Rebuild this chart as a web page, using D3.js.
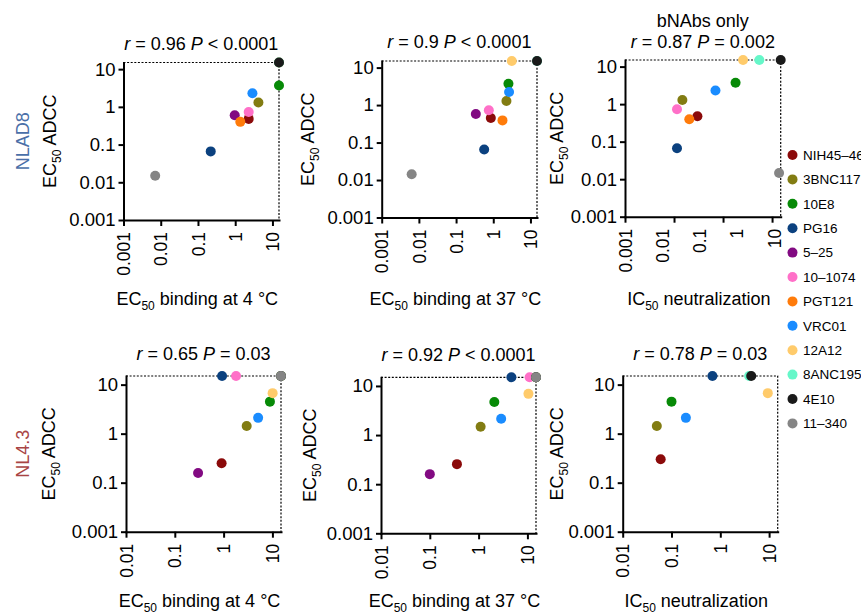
<!DOCTYPE html>
<html>
<head>
<meta charset="utf-8">
<script src="https://cdnjs.cloudflare.com/ajax/libs/d3/7.8.5/d3.min.js"></script>
<style>
  body { margin: 0; background: #fff; }
  svg text { font-family: "Liberation Sans", Arial, Helvetica, sans-serif; fill: #000; }
</style>
</head>
<body>
<div id="chart"></div>
<script>

var antibodies = ['NIH45–46', '3BNC117', '10E8', 'PG16', '5–25', '10–1074', 'PGT121', 'VRC01', '12A12', '8ANC195', '4E10', '11–340'];
var colors = ['#8b0a0a', '#827c12', '#078a07', '#0b417f', '#820a82', '#ff70c8', '#ff7b0a', '#1a8cff', '#ffcb6b', '#66f7c9', '#1a1a1a', '#858585'];

// ug/ml, 15 = not reached (drawn on the dotted line), null = not plotted
var nlad8Bind4X  = [2.3, 4.2, 15, 0.22, 0.97, 2.3, 1.37, 2.9, 15, 15, 15, 0.0071];
var nlad8Bind4Y  = [0.48, 1.3, 3.7, 0.066, 0.6, 0.73, 0.4, 2.3, 15, 15, 15, 0.0149];
var nlad8Bind37X = [0.86, 2.26, 2.56, 0.57, 0.34, 0.76, 1.77, 2.66, 3.15, 15, 15, 0.0064];
var nlad8Bind37Y = [0.45, 1.29, 3.7, 0.065, 0.58, 0.73, 0.39, 2.24, 15, 15, 15, 0.0143];
var nlad8NeutX   = [0.3, 0.148, 1.8, 0.115, null, 0.115, 0.205, 0.7, 2.56, 5.5, 15, 13.9];
var nlad8NeutY   = [0.475, 1.29, 3.7, 0.067, null, 0.73, 0.395, 2.3, 15, 15, 15, 0.0146];
var nl43Bind4X   = [0.91, 2.97, 8.9, 0.93, 0.3, 1.8, 15, 5.1, 10.1, 15, 15, 15];
var nl43Bind4Y   = [0.25, 1.43, 4.5, 15, 0.158, 15, 15, 2.1, 6.7, 15, 15, 15];
var nl43Bind37X  = [0.36, 1.1, 2.1, 4.7, 0.1, 11.1, 15, 2.9, 10.5, 15, 15, 15];
var nl43Bind37Y  = [0.256, 1.48, 4.7, 15, 0.16, 15, 15, 2.15, 6.9, 15, 15, 15];
var nl43NeutX    = [0.06, 0.05, 0.1, 0.69, null, null, null, 0.197, 9.4, 3.9, 4.3, null];
var nl43NeutY    = [0.3, 1.43, 4.5, 15, null, null, null, 2.1, 6.7, 15, 15, null];

var titleR = ['0.96', '0.9', '0.87', '0.65', '0.92', '0.78'];
var titleP = ['< 0.0001', '< 0.0001', '= 0.002', '= 0.03', '< 0.0001', '= 0.03'];
var subtitles = ['', '', 'bNAbs only', '', '', ''];
var xLabelHead = ['EC', 'EC', 'IC', 'EC', 'EC', 'IC'];
var xLabelTail = [' binding at 4 °C', ' binding at 37 °C', ' neutralization', ' binding at 4 °C', ' binding at 37 °C', ' neutralization'];
var rowLabels = ['NLAD8', 'NL4.3'];
var rowColors = ['#4a6fa8', '#a84444'];

var topTicks = [0.001, 0.01, 0.1, 1, 10];
var topTickLabels = ['0.001', '0.01', '0.1', '1', '10'];
var bottomTicks = [0.01, 0.1, 1, 10];
var bottomXTickLabels = ['0.01', '0.1', '1', '10'];
var bottomYTickLabels = ['0.001', '0.1', '1', '10'];
var maxValue = 15;

var panels = [
  { x: nlad8Bind4X, y: nlad8Bind4Y, xTicks: topTicks, xTickLabels: topTickLabels, yTicks: topTicks, yTickLabels: topTickLabels },
  { x: nlad8Bind37X, y: nlad8Bind37Y, xTicks: topTicks, xTickLabels: topTickLabels, yTicks: topTicks, yTickLabels: topTickLabels },
  { x: nlad8NeutX, y: nlad8NeutY, xTicks: bottomTicks, xTickLabels: null, labelTicks: topTicks, labelTickLabels: topTickLabels, yTicks: topTicks, yTickLabels: topTickLabels },
  { x: nl43Bind4X, y: nl43Bind4Y, xTicks: bottomTicks, xTickLabels: bottomXTickLabels, yTicks: bottomTicks, yTickLabels: bottomYTickLabels },
  { x: nl43Bind37X, y: nl43Bind37Y, xTicks: bottomTicks, xTickLabels: bottomXTickLabels, yTicks: bottomTicks, yTickLabels: bottomYTickLabels },
  { x: nl43NeutX, y: nl43NeutY, xTicks: bottomTicks, xTickLabels: bottomXTickLabels, yTicks: bottomTicks, yTickLabels: bottomYTickLabels }
];

var layout = [
  { left: 123.5, top: 62.5, width: 155.5, height: 157.5, titleGap: 12.5, yLabelGap: 68, xLabelY: 305 },
  { left: 381.7, top: 61, width: 155.3, height: 156.5, titleGap: 12.7, yLabelGap: 68, xLabelY: 305 },
  { left: 625, top: 60, width: 155.7, height: 156.7, titleGap: 11.7, yLabelGap: 62, xLabelY: 305 },
  { left: 126, top: 376, width: 155, height: 155.7, titleGap: 16, yLabelGap: 71, xLabelY: 606.5 },
  { left: 381, top: 377.3, width: 155, height: 156, titleGap: 16.6, yLabelGap: 65, xLabelY: 606.5 },
  { left: 622.7, top: 376, width: 155, height: 155.7, titleGap: 16, yLabelGap: 60, xLabelY: 606.5 }
];

var svg = d3.select('#chart').append('svg')
    .attr('width', 861)
    .attr('height', 613);

function rotateXLabels(axis) {
  axis.attr('font-size', 17.5);
  axis.selectAll('text')
      .attr('transform', 'rotate(-90)')
      .attr('x', -12)
      .attr('y', 0)
      .attr('dy', '0.35em')
      .style('text-anchor', 'end');
}

function styleAxis(axis) {
  axis.select('.domain')
      .attr('stroke-width', 2)
      .attr('stroke-linecap', 'square');
  axis.selectAll('.tick line').attr('stroke-width', 2);
}

function drawPanel(p, l, i) {

  var xMin = p.xTicks[0];
  var yMin = p.yTicks[0];

  var x = d3.scaleLog()
      .domain([xMin, maxValue])
      .range([l.left, l.left + l.width]);

  var y = d3.scaleLog()
      .domain([yMin, maxValue])
      .range([l.top + l.height, l.top]);

  var g = svg.append('g');

  // Dotted "not reached" limits
  g.append('path')
      .attr('d', 'M' + x(xMin) + ',' + y(maxValue) + 'H' + x(maxValue) + 'V' + y(yMin))
      .attr('fill', 'none')
      .attr('stroke', '#000')
      .attr('stroke-width', 1.2)
      .attr('stroke-dasharray', '2,1.6');

  // Draw the axes
  var xAxis = g.append('g')
      .attr('transform', 'translate(0,' + y(yMin) + ')')
      .call(d3.axisBottom(x)
        .tickValues(p.xTicks)
        .tickFormat(function (d, k) { return p.xTickLabels ? p.xTickLabels[k] : ''; })
        .tickSize(6)
        .tickSizeOuter(0));
  styleAxis(xAxis);
  rotateXLabels(xAxis);

  if (p.labelTicks) {
    var xl = d3.scaleLog()
        .domain([p.labelTicks[0], maxValue])
        .range([l.left, l.left + l.width]);
    var labelAxis = g.append('g')
        .attr('transform', 'translate(0,' + y(yMin) + ')')
        .call(d3.axisBottom(xl)
          .tickValues(p.labelTicks)
          .tickFormat(function (d, k) { return p.labelTickLabels[k]; })
          .tickSize(0));
    labelAxis.select('.domain').remove();
    rotateXLabels(labelAxis);
  }

  var yAxis = g.append('g')
      .attr('transform', 'translate(' + x(xMin) + ',0)')
      .call(d3.axisLeft(y)
        .tickValues(p.yTicks)
        .tickFormat(function (d, k) { return p.yTickLabels[k]; })
        .tickSize(5)
        .tickPadding(3)
        .tickSizeOuter(0));
  styleAxis(yAxis);
  yAxis.attr('font-size', 18.5);

  // Points, legend order so later antibodies sit on top
  var points = antibodies.map(function (name, k) {
    return { name: name, color: colors[k], x: p.x[k], y: p.y[k] };
  }).filter(function (d) { return d.x != null && d.y != null; });

  g.selectAll('circle')
      .data(points)
      .enter()
    .append('circle')
      .attr('cx', function (d) { return x(d.x); })
      .attr('cy', function (d) { return y(d.y); })
      .attr('r', 5)
      .attr('fill', function (d) { return d.color; });

  // Title
  var cx = l.left + l.width / 2;
  var title = g.append('text')
      .attr('x', cx)
      .attr('y', l.top - l.titleGap)
      .attr('text-anchor', 'middle')
      .attr('font-size', 18);
  title.append('tspan').attr('font-style', 'italic').text('r');
  title.append('tspan').text(' = ' + titleR[i] + ' ');
  title.append('tspan').attr('font-style', 'italic').text('P');
  title.append('tspan').text(' ' + titleP[i]);

  if (subtitles[i]) {
    g.append('text')
        .attr('x', cx)
        .attr('y', l.top - l.titleGap - 21.5)
        .attr('text-anchor', 'middle')
        .attr('font-size', 18)
        .text(subtitles[i]);
  }

  // Axis titles
  var xt = g.append('text')
      .attr('x', cx - 4)
      .attr('y', l.xLabelY)
      .attr('text-anchor', 'middle')
      .attr('font-size', 18);
  xt.append('tspan').text(xLabelHead[i]);
  xt.append('tspan').attr('font-size', 12).attr('dy', 5).text('50');
  xt.append('tspan').attr('dy', -5).text(xLabelTail[i]);

  var yt = g.append('text')
      .attr('transform', 'translate(' + (l.left - l.yLabelGap) + ',' + (l.top + l.height / 2) + ') rotate(-90)')
      .attr('text-anchor', 'middle')
      .attr('font-size', 18);
  yt.append('tspan').text('EC');
  yt.append('tspan').attr('font-size', 12).attr('dy', 5).text('50');
  yt.append('tspan').attr('dy', -5).text(' ADCC');

  if (i % 3 === 0) {
    var row = i / 3;
    g.append('text')
        .attr('transform', 'translate(28.5,' + (l.top + l.height / 2) + ') rotate(-90)')
        .attr('text-anchor', 'middle')
        .attr('font-size', 18)
        .style('fill', rowColors[row])
        .text(rowLabels[row]);
  }
}

panels.forEach(function (p, i) { drawPanel(p, layout[i], i); });

// Legend
var legend = svg.append('g')
    .attr('transform', 'translate(792.5,155)');

var items = legend.selectAll('g')
    .data(antibodies)
    .enter()
  .append('g')
    .attr('transform', function (d, i) { return 'translate(0,' + (i * 24.4) + ')'; });

items.append('circle')
    .attr('r', 5)
    .attr('fill', function (d, i) { return colors[i]; });

items.append('text')
    .attr('x', 10.5)
    .attr('dy', '0.36em')
    .attr('font-size', 13.5)
    .text(function (d) { return d; });

</script>
</body>
</html>
